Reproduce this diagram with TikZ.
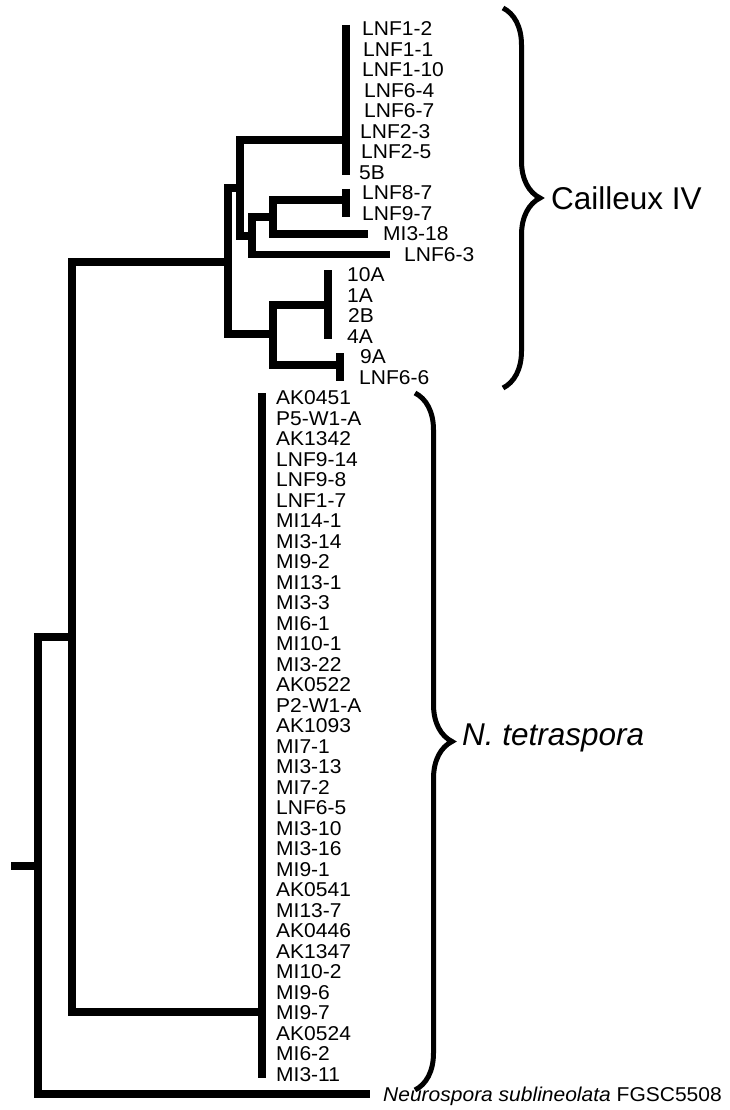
\documentclass[tikz,border=0pt]{standalone}
\usepackage{fontspec}
\setmainfont{Liberation Sans}
\usetikzlibrary{decorations.pathreplacing}

\begin{document}
\begin{tikzpicture}[
        x=1pt, y=-1pt,
        branch/.style={
            line width=7.5pt
        },
        bar/.style={
            line width=8.5pt
        },
        leaf/.style={
            anchor=west,
            inner sep=0pt,
            xscale=1.05,
            font=\fontsize{20}{22}\selectfont
        },
        clade/.style={
            anchor=west,
            inner sep=0pt,
            font=\fontsize{31.5}{34}\selectfont
        },
        group/.style={
            decorate,
            decoration={brace, amplitude=37pt},
            line width=5pt
        }
    ]
        \useasboundingbox (0,0) rectangle (730,1110);

        \foreach \lab/\lx [count=\i] in {
            LNF1-2/362, LNF1-1/363, LNF1-10/362, LNF6-4/364, LNF6-7/364,
            LNF2-3/360, LNF2-5/361, 5B/359, LNF8-7/362, LNF9-7/362,
            MI3-18/383, LNF6-3/404, 10A/347, 1A/347, 2B/348, 4A/347,
            9A/360, LNF6-6/359}
            \node[leaf] (leaf\i) at (\lx, {29+20.5*(\i-1)}) {\lab};

        \foreach \lab [count=\i from 19] in {
            AK0451, P5-W1-A, AK1342, LNF9-14, LNF9-8, LNF1-7, MI14-1,
            MI3-14, MI9-2, MI13-1, MI3-3, MI6-1, MI10-1, MI3-22, AK0522,
            P2-W1-A, AK1093, MI7-1, MI3-13, MI7-2, LNF6-5, MI3-10, MI3-16,
            MI9-1, AK0541, MI13-7, AK0446, AK1347, MI10-2, MI9-6, MI9-7,
            AK0524, MI6-2, MI3-11}
            \node[leaf] (leaf\i) at (276, {29+20.5*(\i-1)}) {\lab};

        \node[leaf] (leaf53) at (383,1096) {\textit{Neurospora sublineolata} FGSC5508};

        \node[clade] (cailleux) at (551,198) {Cailleux IV};
        \node[clade] (tetraspora) at (462,738) {\textit{N. tetraspora}};

        \coordinate (lnf-top) at (346,25);
        \coordinate (lnf-bot) at (346,175);
        \coordinate (lnf) at (346,140);
        \coordinate (p89-top) at (346,189);
        \coordinate (p89-bot) at (346,217);
        \coordinate (p89) at (346,200);
        \coordinate (mi318) at (368,234);
        \coordinate (lnf63) at (390,254.5);
        \coordinate (p10-top) at (328,270);
        \coordinate (p10-bot) at (328,339);
        \coordinate (p10) at (328,305);
        \coordinate (p9-top) at (340,353);
        \coordinate (p9-bot) at (340,381);
        \coordinate (p9) at (340,365);
        \coordinate (tet-top) at (262,393);
        \coordinate (tet-bot) at (262,1078);
        \coordinate (tet) at (262,1012);
        \coordinate (sub) at (370,1094);

        \coordinate (c1) at (273,217);
        \coordinate (c2) at (252,236);
        \coordinate (c3) at (240,188);
        \coordinate (c4) at (273,334);
        \coordinate (cail) at (228,262);
        \coordinate (anc) at (72,637);
        \coordinate (root) at (38,866);
        \coordinate (base) at (11,866);

        \draw[bar] (lnf-top) -- (lnf-bot);
        \draw[bar] (p89-top) -- (p89-bot);
        \draw[bar] (p10-top) -- (p10-bot);
        \draw[bar] (p9-top) -- (p9-bot);
        \draw[bar] (tet-top) -- (tet-bot);

        \draw[branch] (p89) -| (c1) |- (mi318);
        \draw[branch] (c1) -| (c2) |- (lnf63);
        \draw[branch] (lnf) -| (c3) |- (c2);
        \draw[branch] (p10) -| (c4) |- (p9);
        \draw[branch] (c3) -| (cail) |- (c4);
        \draw[branch] (cail) -| (anc) |- (tet);
        \draw[branch] (anc) -| (root) |- (sub);
        \draw[branch] (base) -- (root);

        \draw[group] (503,8) -- (503,388);
        \draw[group] (415,393) -- (415,1090);
    \end{tikzpicture}
\end{document}
